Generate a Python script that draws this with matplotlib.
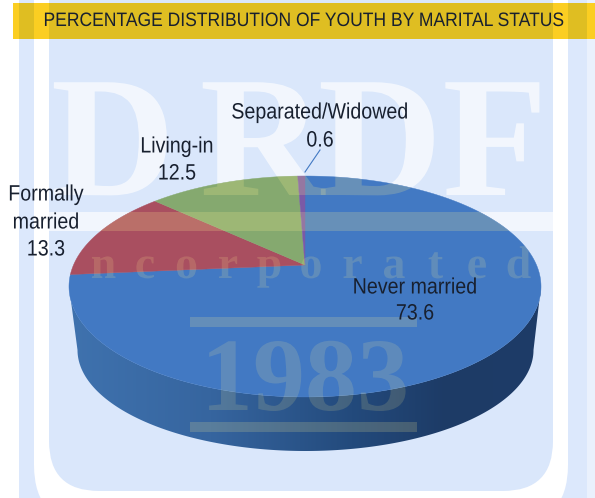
import numpy as np
import matplotlib
matplotlib.use("Agg")
import matplotlib.pyplot as plt
from matplotlib.patches import FancyBboxPatch, Polygon, Rectangle
from matplotlib.patheffects import AbstractPathEffect
from matplotlib.transforms import Affine2D

# datos del grafico
categorias = ["Never married", "Formally married", "Living-in", "Separated/Widowed"]
valores = [73.6, 13.3, 12.5, 0.6]
colores = ["#4279C3", "#A94F60", "#85A96F", "#7B5AA6"]
titulo = "PERCENTAGE DISTRIBUTION OF YOUTH BY MARITAL STATUS"

FONDO = "#DAE7FB"
TEXTO = "#18202F"
SERIF = "Liberation Serif"
SANS = "Liberation Sans"
TINTE = "#FFF090"

# La letra del original esta comprimida a lo ancho
class Estrecho(AbstractPathEffect):
    def __init__(self, cx, f):
        self.t = Affine2D().translate(-cx, 0).scale(f, 1).translate(cx, 0)

    def draw_path(self, renderer, gc, tpath, affine, rgbFace=None):
        renderer.draw_path(gc, tpath, affine + self.t, rgbFace)

fig = plt.figure(figsize=(5.95, 4.98), dpi=100)
ax = fig.add_axes([0, 0, 1, 1])
ax.set_xlim(0, 595)
ax.set_ylim(498, 0)
ax.axis("off")

# Marco de fondo
def caja(x0, x1, y0, y1, r, color, z=0):
    ax.add_patch(FancyBboxPatch((x0 + r, y0 + r), x1 - x0 - 2 * r, y1 - y0 - 2 * r,
                                boxstyle=f"round,pad={r},rounding_size={r}",
                                fc=color, ec="none", zorder=z))

ax.add_patch(Rectangle((568, 0), 27, 498, fc="#EAF1FD", ec="none", zorder=0))
caja(19, 587, -80, 540, 35, "#DCE8FC", 0.1)
caja(34, 568, -80, 525, 60, "#FFFFFF", 0.2)
caja(49, 553, -80, 491, 50, FONDO, 0.3)

# Letras grandes de la marca de agua, debajo y encima del pastel
def letras(color, alpha, z):
    arts = []
    for letra, x in zip("DRDF", [113, 262, 380, 495]):
        arts.append(ax.text(x, 195, letra, family=SERIF, weight="bold", fontsize=124,
                            color=color, alpha=alpha, ha="center", va="baseline", zorder=z,
                            path_effects=[Estrecho(x, 1.0)]))
    arts.append(ax.add_patch(Rectangle((49, 212), 504, 19, fc=color, ec="none", alpha=alpha, zorder=z)))
    return arts

letras("#FFFFFF", 0.66, 0.5)

# Proyeccion en perspectiva del circulo del pastel
CX, CY = 305, 265
A, B, K = 231.5, 106.3, 0.1945

def borde(theta):
    u, v = np.sin(theta), np.cos(theta)
    return CX + A * u / (1 + K * v), CY - B * v / (1 + K * v)

# Pared lateral con degradado
t = np.linspace(0, 2 * np.pi, 721)
xb, yb = borde(t)
mitad = yb >= 286
orden = np.argsort(xb[mitad])
xr, yr = xb[mitad][orden], yb[mitad][orden]
tb = np.linspace(np.pi, 0, 200)
xl, yl = 305.5 + 228 * np.cos(tb), 350 + 101 * np.sin(tb)
xp = np.r_[xr[0], xl, xr[-1], xr[::-1]]
yp = np.r_[yr[0], yl, yr[-1], yr[::-1]]
pared = Polygon(np.c_[xp, yp], closed=True, fc="none", ec="none")
ax.add_patch(pared)
cmap = matplotlib.colors.LinearSegmentedColormap.from_list(
    "pared", [(0, "#3F72AE"), (0.3, "#36659F"), (0.6, "#234A7C"), (0.8, "#1D3B66"), (1, "#1E3C68")])
im = ax.imshow(np.linspace(0, 1, 256)[None, :], extent=(70, 541, 460, 280), cmap=cmap,
               aspect="auto", zorder=1, vmin=0, vmax=1)
im.set_clip_path(pared)
ax.set_xlim(0, 595)
ax.set_ylim(498, 0)

# Sectores a partir de los valores
acum = np.cumsum([0] + valores) / sum(valores) * 2 * np.pi
for i, cat in enumerate(categorias):
    th = np.linspace(acum[i], acum[i + 1], max(int((acum[i + 1] - acum[i]) * 120), 3))
    bx, by = borde(th)
    ax.add_patch(Polygon(np.c_[np.r_[CX, bx], np.r_[CY, by]], closed=True,
                         fc=colores[i], ec=colores[i], lw=0.3, zorder=2, label=cat))

# Marca de agua encima del pastel, recortada a su silueta
arriba = yb < 286
orden2 = np.argsort(xb[arriba])
silueta = Polygon(np.c_[np.r_[xb[arriba][orden2], xr[-1], xl[::-1], xr[0]],
                        np.r_[yb[arriba][orden2], yr[-1], yl[::-1], yr[0]]],
                  closed=True, fc="none", ec="none")
ax.add_patch(silueta)
sobre = letras(TINTE, 0.2, 2.5)
for letra, x in zip("Incorporated", np.arange(62, 540, 41.5)):
    sobre.append(ax.text(x, 278, letra, family=SERIF, weight="bold", fontsize=33, color=TINTE, alpha=0.16,
                         ha="center", va="baseline", zorder=2.5, path_effects=[Estrecho(x, 1.0)]))
sobre.append(ax.text(305, 410, "1983", family=SERIF, weight="bold", fontsize=75, color=TINTE, alpha=0.15,
                     ha="center", va="baseline", zorder=2.5, path_effects=[Estrecho(305, 1.0)]))
for y in [317, 422]:
    sobre.append(ax.add_patch(Rectangle((190, y), 227, 10, fc=TINTE, ec="none", alpha=0.18, zorder=2.5)))
for a in sobre:
    a.set_clip_on(True)
    a.set_clip_path(silueta)

# Banda del titulo
ax.add_patch(Rectangle((13, 3), 582, 36, fc="#DFBE22", ec="none", zorder=3))
for x0, x1 in [(13, 19), (34, 49), (553, 568), (587, 595)]:
    ax.add_patch(Rectangle((x0, 3), x1 - x0, 36, fc="#FBCE22", ec="none", zorder=3.1))
ax.text(304, 21.5, titulo, family=SANS, fontsize=14, color=TEXTO, ha="center", va="center",
        zorder=4, path_effects=[Estrecho(304, 0.9)])

# Etiquetas
etiquetas = [
    (415, [(288, "Never married"), (314, f"{valores[0]}")]),
    (46, [(195, "Formally"), (223, "married"), (250, f"{valores[1]}")]),
    (177, [(147, "Living-in"), (174, f"{valores[2]}")]),
    (320, [(113, "Separated/Widowed"), (141, f"{valores[3]}")]),
]
for x, filas in etiquetas:
    for y, txt in filas:
        ax.text(x, y, txt, family=SANS, fontsize=16, color=TEXTO, ha="center", va="center",
                zorder=4, path_effects=[Estrecho(x, 0.884)])
ax.plot([320, 305], [150, 172], color="#4279C3", lw=0.8, zorder=4)

fig.savefig("out.png", dpi=100)
